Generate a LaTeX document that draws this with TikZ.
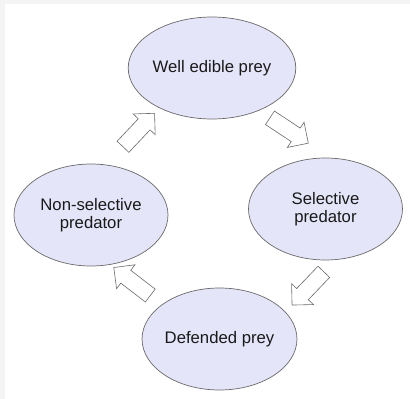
\documentclass[tikz,border=0pt]{standalone}
\usepackage{fontspec}
\setmainfont{Liberation Sans}
\usetikzlibrary{shapes.geometric,shapes.arrows}
\definecolor{bubble}{HTML}{E5E5FA}
\definecolor{edge}{HTML}{6A6A6A}
\definecolor{frame}{HTML}{F4F4F4}
\begin{document}
\begin{tikzpicture}[x=1pt,y=-1pt,
  state/.style={ellipse, draw=edge, line width=0.7pt, fill=bubble,
    minimum width=154pt, minimum height=102pt, inner sep=0pt,
    align=center, text=black!90,
    font=\fontsize{16.7pt}{17.5pt}\selectfont},
  blockarrow/.style={single arrow, draw=edge, fill=white, line width=0.6pt,
    minimum height=46pt, minimum width=30pt, single arrow head extend=7pt,
    single arrow tip angle=90, single arrow head indent=0pt,
    inner xsep=0pt, inner ysep=7.8pt}]
\fill[frame] (0,0) rectangle (410,399);
\fill[white] (5,4) rectangle (410,399);
\useasboundingbox (0,0) rectangle (410,399);
\node[state] (wep) at (212,68) {Well edible prey};
\node[state] (sp) at (325.5,209) {Selective\\predator};
\node[state] (dp) at (219.5,339) {Defended prey};
\node[state] (nsp) at (91,215) {Non-selective\\predator};
\node[blockarrow, rotate=46.7] (a1) at (136,133) {};
\node[blockarrow, rotate=-33.5] (a2) at (285.75,128.25) {};
\node[blockarrow, rotate=-133.7] (a3) at (310.75,285.5) {};
\node[blockarrow, rotate=142.5] (a4) at (135.25,284) {};
\end{tikzpicture}
\end{document}
